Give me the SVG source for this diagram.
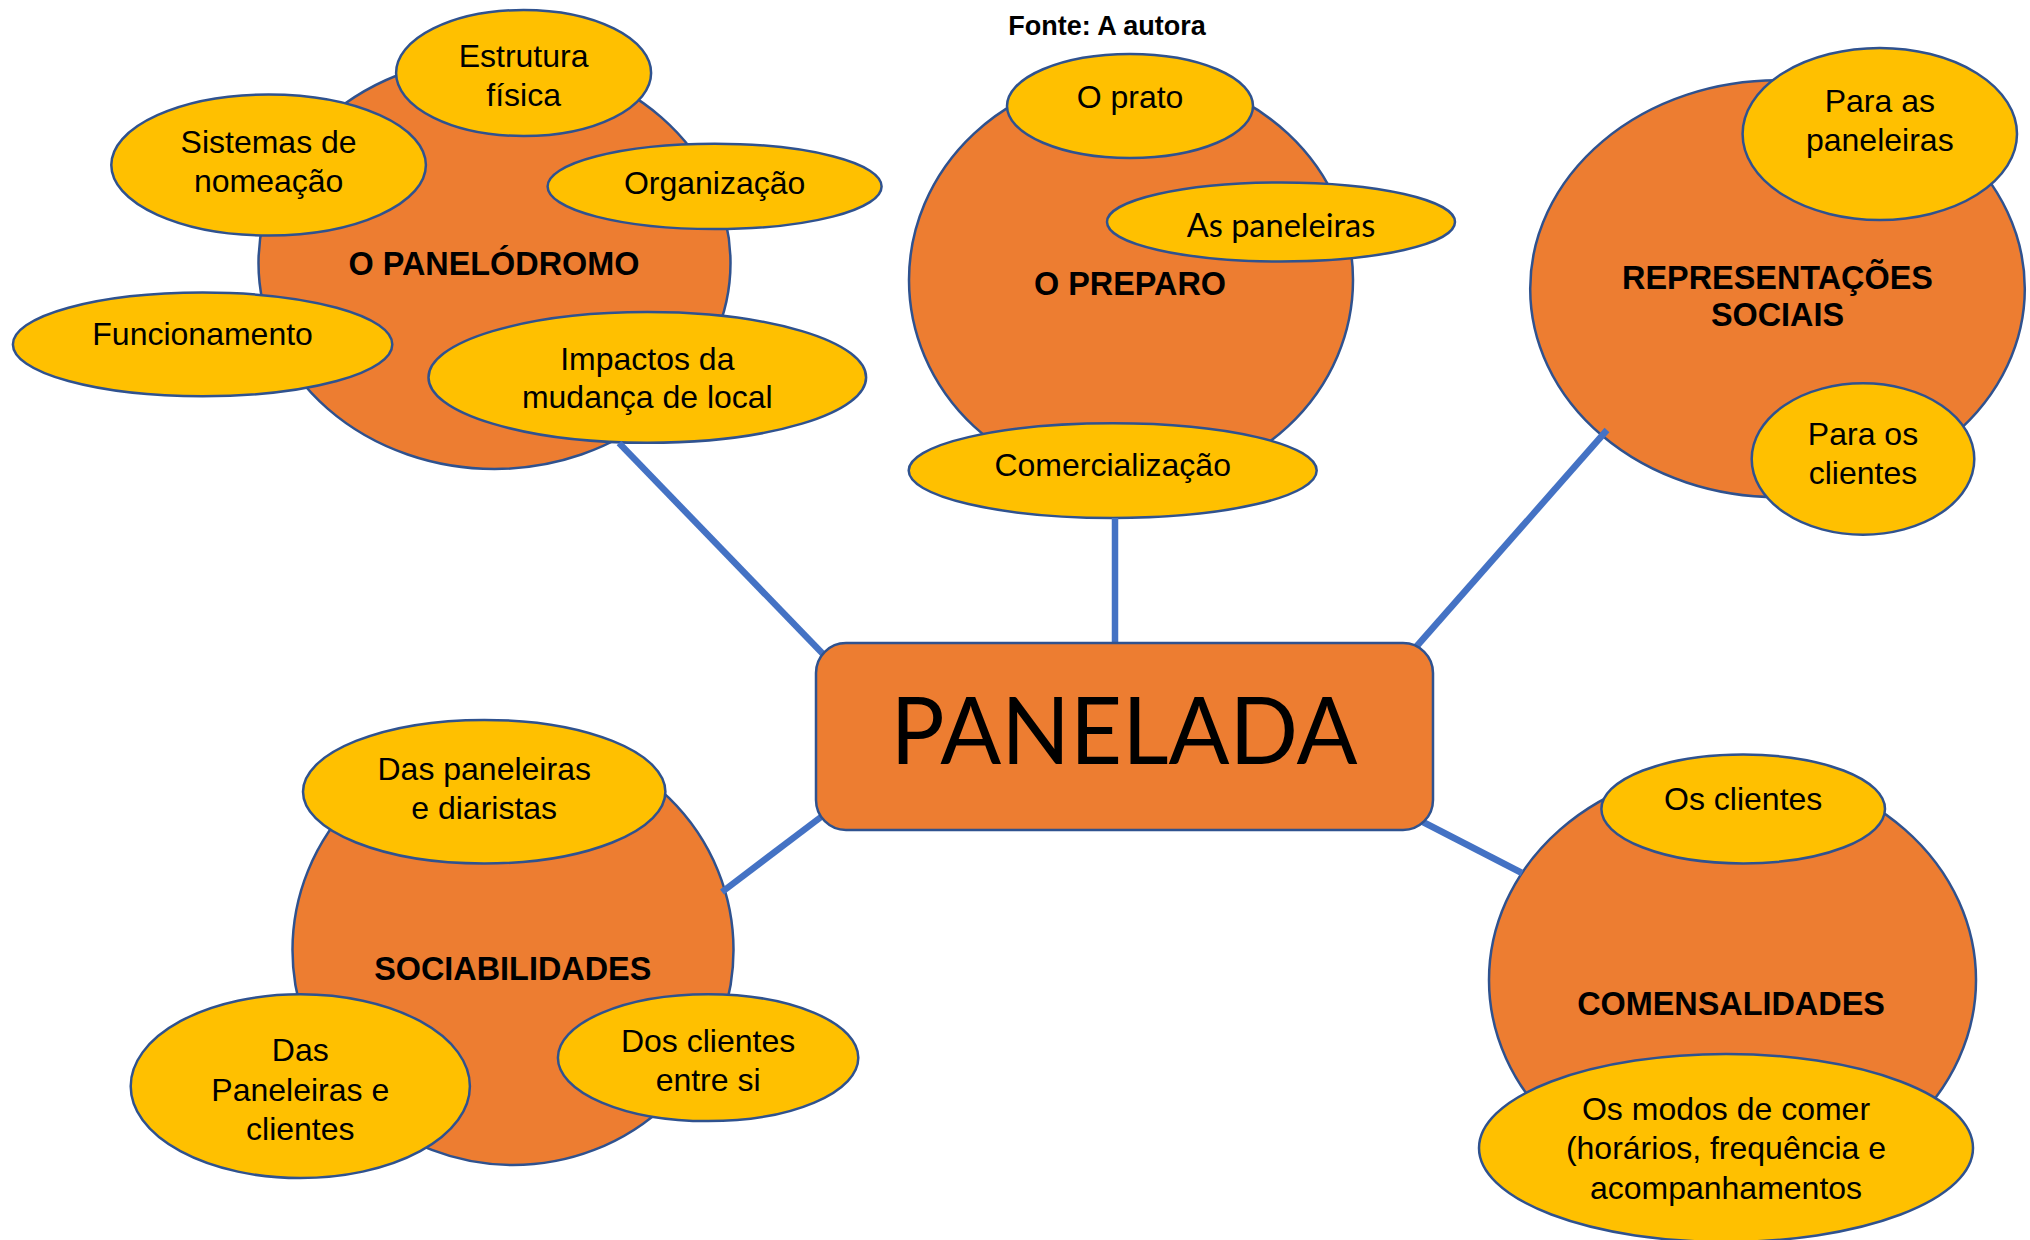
<svg xmlns="http://www.w3.org/2000/svg" width="2030" height="1240" viewBox="0 0 2030 1240">
<style>
.big{fill:#ED7D31;stroke:#2F528F;stroke-width:2.5}
.sub{fill:#FFC000;stroke:#2F528F;stroke-width:2.5}
.t{font-family:"Liberation Sans",Arial,sans-serif;font-size:32px;fill:#000;text-anchor:middle}
.b{font-family:"Liberation Sans",Arial,sans-serif;font-size:32.4px;font-weight:bold;fill:#000;text-anchor:middle}
.c{font-family:Lato,"Open Sans",sans-serif;fill:#000;text-anchor:middle}
.conn line{stroke:#4472C4;stroke-width:6.5;stroke-linecap:butt}
</style>
<rect width="2030" height="1240" fill="#fff"/>
<text class="b" x="1107" y="34.5" style="font-size:27px">Fonte: A autora</text>

<g id="panelodromo">
<ellipse class="big" cx="494.5" cy="263" rx="236" ry="206"/>
<text class="b" x="494" y="274.5">O PANELÓDROMO</text>
</g>
<g id="estrutura">
<ellipse class="sub" cx="523.6" cy="73" rx="127.5" ry="63"/>
<text class="t" x="523.6" y="66.5">Estrutura</text>
<text class="t" x="523.6" y="105.5">física</text>
</g>
<g id="sistemas">
<ellipse class="sub" cx="268.6" cy="165" rx="157.3" ry="70.5"/>
<text class="t" x="268.6" y="153">Sistemas de</text>
<text class="t" x="268.6" y="192">nomeação</text>
</g>
<g id="organizacao">
<ellipse class="sub" cx="714.6" cy="186.4" rx="167" ry="42.7"/>
<text class="t" x="714.6" y="193.5">Organização</text>
</g>
<g id="funcionamento">
<ellipse class="sub" cx="202.6" cy="344.4" rx="189.7" ry="51.8"/>
<text class="t" x="202.6" y="345">Funcionamento</text>
</g>
<g id="impactos">
<ellipse class="sub" cx="647.3" cy="377.4" rx="218.8" ry="65.4"/>
<text class="t" x="647.3" y="369.6">Impactos da</text>
<text class="t" x="647.3" y="408.4">mudança de local</text>
</g>

<g id="preparo">
<ellipse class="big" cx="1131" cy="280" rx="222" ry="207"/>
<text class="b" x="1130" y="295">O PREPARO</text>
</g>
<g id="prato">
<ellipse class="sub" cx="1130" cy="106" rx="123" ry="52"/>
<text class="t" x="1130" y="108">O prato</text>
</g>
<g id="as-paneleiras">
<ellipse class="sub" cx="1281" cy="222" rx="174" ry="39.5"/>
<text class="c" x="1281" y="237" style="font-size:32.5px">As paneleiras</text>
</g>
<g id="comercializacao">
<ellipse class="sub" cx="1112.7" cy="470.6" rx="204" ry="47.3"/>
<text class="t" x="1112.7" y="475.8">Comercialização</text>
</g>

<g id="representacoes">
<ellipse class="big" cx="1777.5" cy="288.7" rx="247.3" ry="208.4"/>
<text class="b" x="1777.5" y="288.5">REPRESENTAÇÕES</text>
<text class="b" x="1777.5" y="326">SOCIAIS</text>
</g>
<g id="para-paneleiras">
<ellipse class="sub" cx="1879.8" cy="134" rx="137.2" ry="86"/>
<text class="t" x="1879.8" y="112">Para as</text>
<text class="t" x="1879.8" y="151">paneleiras</text>
</g>
<g id="para-clientes">
<ellipse class="sub" cx="1863" cy="459" rx="111.3" ry="75.7"/>
<text class="t" x="1863" y="444.7">Para os</text>
<text class="t" x="1863" y="483.5">clientes</text>
</g>

<g id="sociabilidades">
<ellipse class="big" cx="513" cy="950" rx="220.5" ry="215"/>
<text class="b" x="512.7" y="980">SOCIABILIDADES</text>
</g>
<g id="das-paneleiras-diaristas">
<ellipse class="sub" cx="484.2" cy="791.7" rx="181.2" ry="71.8"/>
<text class="t" x="484.2" y="780">Das paneleiras</text>
<text class="t" x="484.2" y="819">e diaristas</text>
</g>
<g id="das-paneleiras-clientes">
<ellipse class="sub" cx="300.3" cy="1086.2" rx="169.6" ry="91.9"/>
<text class="t" x="300.3" y="1061">Das</text>
<text class="t" x="300.3" y="1101">Paneleiras e</text>
<text class="t" x="300.3" y="1140">clientes</text>
</g>
<g id="dos-clientes">
<ellipse class="sub" cx="708.1" cy="1057.7" rx="150.2" ry="63.4"/>
<text class="t" x="708.1" y="1052">Dos clientes</text>
<text class="t" x="708.1" y="1090.7">entre si</text>
</g>

<g id="comensalidades">
<ellipse class="big" cx="1732.5" cy="980" rx="243.5" ry="213"/>
<text class="b" x="1731" y="1015">COMENSALIDADES</text>
</g>
<g id="os-clientes">
<ellipse class="sub" cx="1743.2" cy="809" rx="141.8" ry="54.4"/>
<text class="t" x="1743.2" y="810">Os clientes</text>
</g>
<g id="modos-comer">
<ellipse class="sub" cx="1726" cy="1148" rx="247" ry="94"/>
<text class="t" x="1726" y="1120">Os modos de comer</text>
<text class="t" x="1726" y="1159">(horários, frequência e</text>
<text class="t" x="1726" y="1199">acompanhamentos</text>
</g>

<g id="connectors" class="conn">
<line x1="619" y1="443" x2="823" y2="654"/>
<line x1="1115" y1="518" x2="1115" y2="642"/>
<line x1="1607" y1="430" x2="1416" y2="647"/>
<line x1="821" y1="817" x2="722" y2="892"/>
<line x1="1421" y1="821" x2="1522" y2="873"/>
</g>

<g id="panelada">
<rect x="816" y="643" width="617" height="187" rx="30" ry="30" fill="#ED7D31" stroke="#2F528F" stroke-width="2.5"/>
<text class="c" x="1124" y="764" style="font-size:93px" textLength="467" lengthAdjust="spacingAndGlyphs">PANELADA</text>
</g>
</svg>
